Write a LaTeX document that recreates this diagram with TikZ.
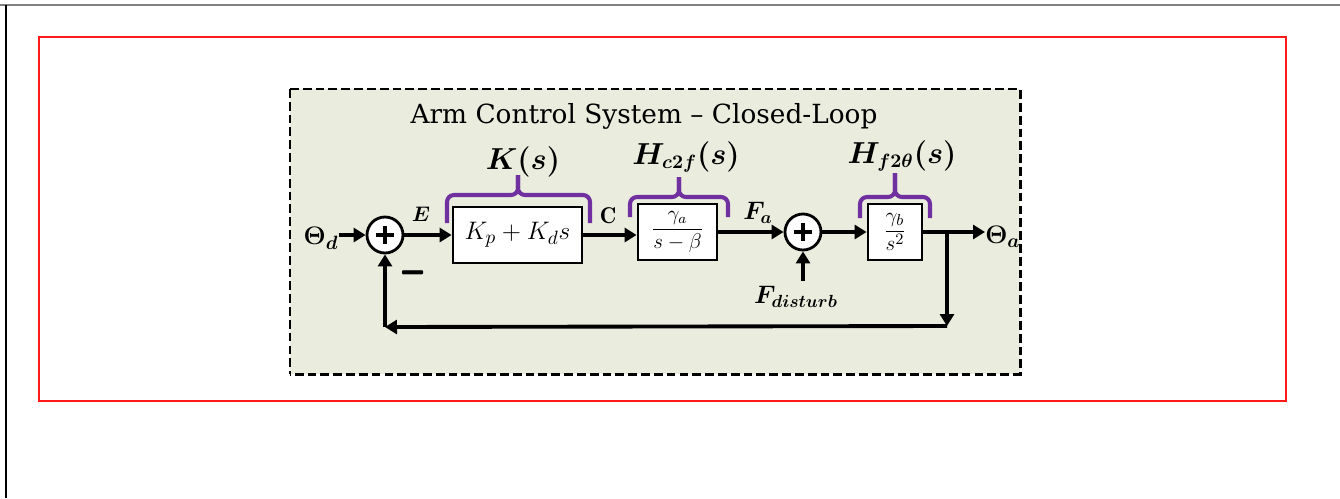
\documentclass[tikz,border=0pt]{standalone}
\usepackage{amsmath,bm}
\usepackage{fontspec}
\newfontfamily\titlefont{DejaVu Serif}
\usetikzlibrary{arrows.meta,calc}
\definecolor{bgfill}{RGB}{234,236,222}
\definecolor{bracepurple}{RGB}{112,48,160}
\begin{document}
\begin{tikzpicture}[x=0.02cm,y=-0.02cm,
  conn/.style={line width=2.2pt,-{Triangle[length=0.24cm,width=0.28cm]}},
  blockbox/.style={draw,line width=1.6pt,fill=white,inner sep=0pt,minimum height=1.12cm},
  sumnode/.style={circle,draw,line width=1.6pt,fill=white,minimum size=0.72cm,inner sep=0pt},
  plusbar/.style={line width=2.2pt},
  bracepath/.style={draw=bracepurple,line width=2.3pt,rounded corners=0.14cm},
  lbl/.style={inner sep=0pt},
  biglbl/.style={inner sep=0pt,font=\fontsize{16}{18}\selectfont},
  midlbl/.style={inner sep=0pt,font=\fontsize{14}{16}\selectfont},
]
\useasboundingbox (0,0) rectangle (1340,498);
% screenshot frame
\draw[line width=1.2pt,gray] (0,5) -- (1340,5);
\draw[line width=1.2pt] (6,5) -- (6,498);
\draw[red!90!white,line width=1.2pt] (39,37) rectangle (1286,401);
% dashed panel
\fill[bgfill] (290,89) rectangle (1020,374);
\draw[line width=1.7pt,dash pattern=on 5pt off 2.3pt] (290,89) -- (1020,89) -- (1020,374) -- (290,374);
\draw[line width=0.8pt,dash pattern=on 5pt off 2.3pt] (290,89) -- (290,374);
% title
\node[lbl,anchor=base,font=\titlefont\fontsize{15}{17}\selectfont] (title) at (644,123) {Arm Control System – Closed-Loop};
% blocks
\node[sumnode] (s1) at (385,235) {};
\node[blockbox,minimum width=2.58cm,font=\fontsize{15.5}{17}\selectfont] (K) at (517.5,235) {$K_p+K_d s$};
\node[blockbox,minimum width=1.58cm,font=\fontsize{12}{14}\selectfont] (H1) at (677.5,232) {$\dfrac{\gamma_a}{s-\beta}$};
\node[sumnode] (s2) at (803,232) {};
\node[blockbox,minimum width=1.08cm,font=\fontsize{13}{15}\selectfont] (H2) at (895,232) {$\dfrac{\gamma_b}{s^2}$};
% plus signs
\draw[plusbar] ($(s1)+(-9,0)$) -- ($(s1)+(9,0)$) ($(s1)+(0,-9)$) -- ($(s1)+(0,9)$);
\draw[plusbar] ($(s2)+(-9,0)$) -- ($(s2)+(9,0)$) ($(s2)+(0,-9)$) -- ($(s2)+(0,9)$);
% labels
\node[midlbl,font=\fontsize{15}{17}\selectfont] (thd) at (321,238) {$\bm{\Theta_d}$};
\node[midlbl,font=\fontsize{15}{17}\selectfont,anchor=west] (tha) at (985,237) {$\bm{\Theta_a}$};
\node[lbl,font=\fontsize{13}{15}\selectfont] (E) at (421,214) {$\bm{E}$};
\node[lbl,font=\fontsize{13}{15}\selectfont] (C) at (608,216) {$\mathbf{C}$};
\node[midlbl] (Fa) at (758,213) {$\bm{F_a}$};
\node[midlbl] (fd) at (796,297) {$\bm{F_{disturb}}$};
\node[lbl,font=\fontsize{17}{18}\selectfont,yscale=2.2] (minus) at (413,273) {$\bm{-}$};
\node[biglbl] (Klbl) at (523,162) {$\bm{K(s)}$};
\node[biglbl] (H1lbl) at (686,157) {$\bm{H_{c2f}(s)}$};
\node[biglbl] (H2lbl) at (902,156) {$\bm{H_{f2\theta}(s)}$};
% braces
\draw[bracepath] (447,223) |- (518,195) -- (518,175);
\draw[bracepath] (590,223) |- (518,195) -- (518,175);
\draw[bracepath] (630,217) |- (679,197) -- (679,177);
\draw[bracepath] (728,217) |- (679,197) -- (679,177);
\draw[bracepath] (860,218) |- (895,197) -- (895,173);
\draw[bracepath] (930,218) |- (895,197) -- (895,173);
% connectors
\coordinate (fdtop) at (803,281);
\coordinate (br) at (947,232);
\coordinate (cr) at (947,326);
\coordinate (cl) at (385,327);
\draw[conn] (thd.east |- s1.west) -- (s1.west);
\draw[conn] (s1.east) -- (K.west |- s1.east);
\draw[conn] (K.east) -- (H1.west |- K.east);
\draw[conn] (H1.east) -- (s2.west);
\draw[conn] (s2.east) -- (H2.west);
\draw[conn] (H2.east) -- (tha.west |- H2.east);
\draw[conn] (fdtop) -- (s2.south);
\draw[conn] (br) -- (cr);
\draw[conn] (cr) -- (cl);
\draw[conn] (cl) -- (s1.south);
\end{tikzpicture}
\end{document}
